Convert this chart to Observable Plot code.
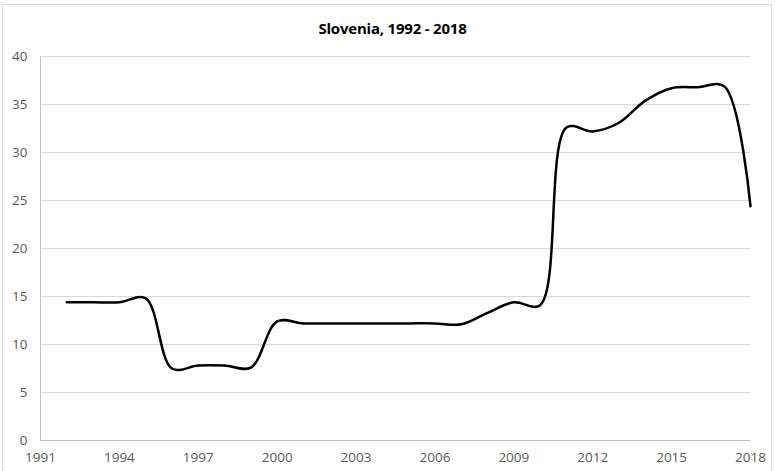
<!DOCTYPE html>
<html>
<head>
<meta charset="utf-8">
<script src="https://cdn.jsdelivr.net/npm/d3@7"></script>
<script src="https://cdn.jsdelivr.net/npm/@observablehq/plot@0.6"></script>
<style>
  html, body { margin: 0; padding: 0; background: #fff; }
  #chart {
    position: relative;
    width: 775px;
    height: 471px;
    overflow: hidden;
    font-family: "Open Sans", "Liberation Sans", sans-serif;
  }
  #frame {
    position: absolute;
    left: 2px; top: 4px;
    width: 770px; height: 475px;
    border: 1px solid #d9d9d9;
    box-sizing: border-box;
    pointer-events: none;
  }
  #title {
    height: 44px;
    box-sizing: border-box;
    padding-top: 19px;
    line-height: 18px;
    font-size: 15px;
    font-weight: bold;
    color: #000;
    text-align: center;
    padding-left: 10px;
    letter-spacing: -0.2px;
  }
  #chart svg { display: block; }
</style>
</head>
<body>
<div id="chart">
  <div id="frame"></div>
  <div id="title">Slovenia, 1992 - 2018</div>
</div>
<script>
// Annual series for Slovenia
const years = [1992, 1993, 1994, 1995, 1996, 1997, 1998, 1999, 2000, 2001, 2002, 2003, 2004,
               2005, 2006, 2007, 2008, 2009, 2010, 2011, 2012, 2013, 2014, 2015, 2016, 2017, 2018];
const values = [14.4, 14.4, 14.4, 14.8, 7.5, 7.8, 7.8, 7.6, 12.4, 12.2, 12.2, 12.2, 12.2,
                12.2, 12.2, 12.1, 13.3, 14.4, 14.1, 32.6, 32.2, 33.1, 35.4, 36.7, 36.8, 36.9, 24.4];

const xTicks = [1991, 1994, 1997, 2000, 2003, 2006, 2009, 2012, 2015, 2018];
const yTicks = [0, 5, 10, 15, 20, 25, 30, 35, 40];

const data = years.map((year, i) => ({year, value: values[i]}));

const chart = Plot.plot({
  width: 775,
  height: 427,
  marginLeft: 40,
  marginRight: 25,
  marginTop: 12,
  marginBottom: 31,
  style: {fontFamily: "'Open Sans', 'Liberation Sans', sans-serif", fontSize: "13.5px", color: "#595959", background: "transparent"},
  x: {domain: [1991, 2018], ticks: xTicks, tickFormat: d => String(d), label: null, tickSize: 0, tickPadding: 12},
  y: {domain: [0, 40], ticks: yTicks, label: null, tickSize: 0, tickPadding: 13},
  marks: [
    Plot.gridY(yTicks.filter(d => d > 0), {stroke: "#d9d9d9", strokeOpacity: 1, strokeWidth: 1}),
    Plot.ruleY([0], {stroke: "#bfbfbf", strokeWidth: 1}),
    Plot.ruleX([1991], {stroke: "#bfbfbf", strokeWidth: 1}),
    Plot.line(data, {x: "year", y: "value", curve: "catmull-rom", stroke: "#000", strokeWidth: 2.5})
  ]
});

document.getElementById("chart").appendChild(chart);
</script>
</body>
</html>
